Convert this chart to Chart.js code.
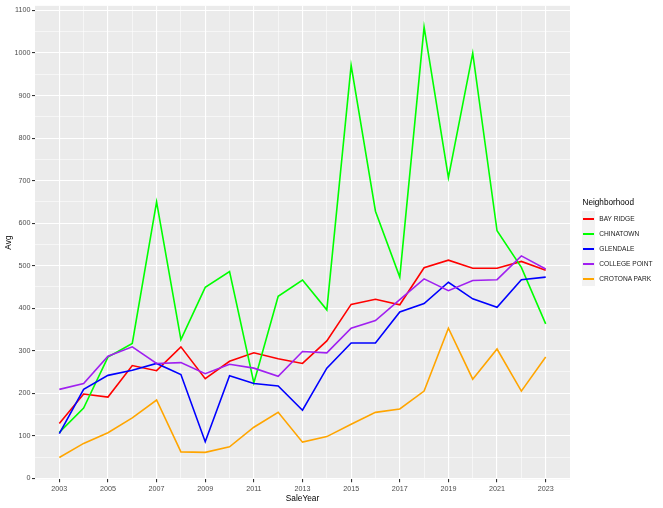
<!DOCTYPE html>
<html lang="en">
  <head>
    <meta charset="UTF-8">
    <script src="https://cdn.jsdelivr.net/npm/chart.js"></script>
    <style>
      body { margin: 0; background: #fff; font-family: "Liberation Sans", Arial, sans-serif; }
      .wrap { position: relative; width: 663px; height: 508px; }
      #chart { position: absolute; left: 0; top: 0; }
      .legend { position: absolute; left: 570px; top: 0; width: 93px; height: 508px; }
      .legend-title { position: absolute; left: 12.5px; top: 198px; font-size: 8.2px; color: #000; white-space: nowrap; }
      .key { position: absolute; left: 12px; width: 13px; height: 15px; background: #f2f2f2; }
      .key span { position: absolute; left: 1px; width: 11px; top: 7px; height: 2px; }
      .label { position: absolute; left: 29.3px; font-size: 6.6px; color: #1a1a1a; white-space: nowrap; line-height: 15px; }
    </style>
  </head>
  <body>
    <div class="wrap">
      <canvas id="chart" width="663" height="508"></canvas>
      <div class="legend" id="legend"></div>
    </div>
    <script>
      const years = [2003, 2004, 2005, 2006, 2007, 2008, 2009, 2010, 2011, 2012, 2013,
                     2014, 2015, 2016, 2017, 2018, 2019, 2020, 2021, 2022, 2023];
      const neighborhoods = ['BAY RIDGE', 'CHINATOWN', 'GLENDALE', 'COLLEGE POINT', 'CROTONA PARK'];
      const lineColors = ['#FF0000', '#00FF00', '#0000FF', '#A020F0', '#FFA500'];

      const bayRidge     = [129, 198, 191, 265, 253, 309, 234, 275, 295, 281, 270, 323, 409, 421, 408, 495, 513, 494, 494, 510, 489];
      const chinatown    = [108, 165, 285, 317, 650, 326, 449, 486, 224, 428, 466, 396, 971, 628, 473, 1061, 707, 1000, 582, 496, 363];
      const glendale     = [105, 209, 242, 254, 270, 244, 86, 241, 223, 217, 160, 259, 318, 318, 391, 411, 461, 422, 402, 467, 473];
      const collegePoint = [209, 223, 287, 309, 270, 272, 246, 268, 259, 240, 298, 295, 353, 371, 420, 469, 441, 465, 467, 523, 492];
      const crotonaPark  = [49, 82, 107, 142, 184, 62, 61, 74, 120, 155, 85, 98, 127, 155, 163, 205, 353, 233, 304, 205, 285];

      const yTicks = [0, 100, 200, 300, 400, 500, 600, 700, 800, 900, 1000, 1100];
      const xTicks = [2003, 2005, 2007, 2009, 2011, 2013, 2015, 2017, 2019, 2021, 2023];

      const series = [bayRidge, chinatown, glendale, collegePoint, crotonaPark];

      const datasets = series.map((vals, i) => ({
        label: neighborhoods[i],
        data: vals.map((v, j) => ({ x: years[j], y: v })),
        borderColor: lineColors[i],
        backgroundColor: lineColors[i],
        borderWidth: 1.6,
        pointRadius: 0,
        tension: 0,
        fill: false,
        order: series.length - i
      }));

      // grey panel behind the plot area
      const panelBg = {
        id: 'panelBg',
        beforeDraw(chart) {
          const a = chart.chartArea;
          const ctx = chart.ctx;
          ctx.save();
          ctx.fillStyle = '#EBEBEB';
          ctx.fillRect(a.left, a.top, a.right - a.left, a.bottom - a.top);
          ctx.restore();
        }
      };

      const yGrid = [];
      for (let v = 0; v <= 1100; v += 50) yGrid.push(v);
      const xGrid = years.slice();

      const ctx = document.getElementById('chart').getContext('2d');
      const chart = new Chart(ctx, {
        type: 'line',
        data: { datasets: datasets },
        plugins: [panelBg],
        options: {
          responsive: false,
          animation: false,
          layout: { padding: { left: 0, right: 93, top: 4.3, bottom: 4.6 } },
          plugins: { legend: { display: false }, tooltip: { enabled: false } },
          scales: {
            x: {
              type: 'linear',
              min: 2002,
              max: 2024,
              afterBuildTicks: (s) => { s.ticks = xGrid.map(v => ({ value: v })); },
              afterFit: (s) => { s.height = 24.1; },
              border: { display: false },
              grid: {
                color: '#FFFFFF',
                lineWidth: (c) => (c.tick && xTicks.includes(c.tick.value)) ? 1.1 : 0.55,
                tickColor: (c) => (c.tick && xTicks.includes(c.tick.value)) ? '#333333' : 'rgba(0,0,0,0)',
                tickLength: 3,
                drawTicks: true
              },
              ticks: {
                autoSkip: false,
                maxRotation: 0,
                padding: 2,
                color: '#4D4D4D',
                font: { family: 'Liberation Sans', size: 7.2 },
                callback: (v) => xTicks.includes(v) ? String(v) : ''
              },
              title: {
                display: true,
                text: 'SaleYear',
                color: '#000',
                font: { family: 'Liberation Sans', size: 8.3 },
                padding: { top: 0, bottom: 0 }
              }
            },
            y: {
              type: 'linear',
              min: -2.4,
              max: 1111,
              afterBuildTicks: (s) => { s.ticks = yGrid.map(v => ({ value: v })); },
              afterFit: (s) => { s.width = 35; },
              border: { display: false },
              grid: {
                color: '#FFFFFF',
                lineWidth: (c) => (c.tick && c.tick.value % 100 === 0) ? 1.1 : 0.55,
                tickColor: (c) => (c.tick && c.tick.value % 100 === 0) ? '#333333' : 'rgba(0,0,0,0)',
                tickLength: 3,
                drawTicks: true
              },
              ticks: {
                autoSkip: false,
                padding: 1.5,
                color: '#4D4D4D',
                font: { family: 'Liberation Sans', size: 7.2 },
                callback: (v) => yTicks.includes(v) ? String(v) : ''
              },
              title: {
                display: true,
                text: 'Avg',
                color: '#000',
                font: { family: 'Liberation Sans', size: 8.3 },
                padding: { top: 4, bottom: 0 }
              }
            }
          }
        }
      });

      // legend, same layout as the ggplot guide
      const legend = document.getElementById('legend');
      const title = document.createElement('div');
      title.className = 'legend-title';
      title.textContent = 'Neighborhood';
      legend.appendChild(title);
      neighborhoods.forEach((name, i) => {
        const top = Math.round(211 + i * 15);
        const key = document.createElement('div');
        key.className = 'key';
        key.style.top = top + 'px';
        const ln = document.createElement('span');
        ln.style.backgroundColor = lineColors[i];
        key.appendChild(ln);
        legend.appendChild(key);
        const lab = document.createElement('div');
        lab.className = 'label';
        lab.style.top = top + 'px';
        lab.textContent = name;
        legend.appendChild(lab);
      });
    </script>
  </body>
</html>
